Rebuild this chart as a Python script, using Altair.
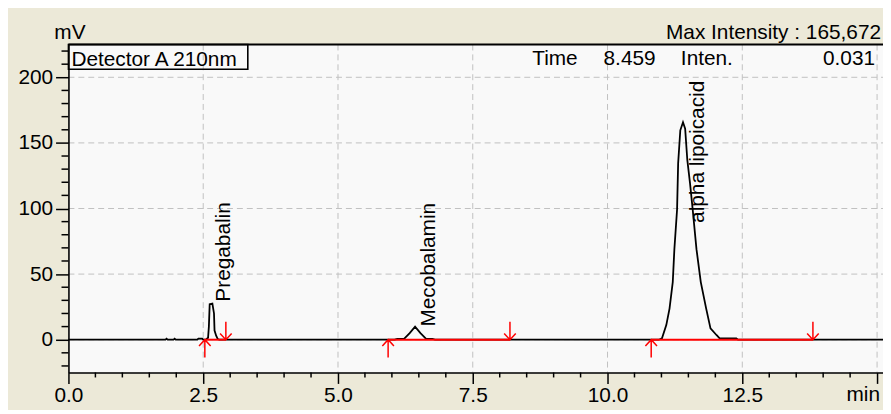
import altair as alt
import pandas as pd

# ---- chromatogram trace (time in min, intensity in mV) ----
trace_t = [0.00, 1.80, 1.82, 1.84, 1.95, 1.97, 1.99, 2.39, 2.41, 2.48, 2.50,
           2.55, 2.59, 2.605, 2.62, 2.67, 2.70, 2.71, 2.74, 2.77, 2.80,
           6.05, 6.10, 6.23, 6.33, 6.43, 6.53, 6.63, 6.75, 6.80,
           10.95, 11.01, 11.09, 11.15, 11.21, 11.24, 11.29, 11.31, 11.35, 11.40,
           11.44, 11.48, 11.53, 11.58, 11.65, 11.73, 11.83, 11.91, 12.02, 12.08,
           12.39, 12.42, 15.11]
trace_mv = [0, 0, 0.8, 0, 0, 0.8, 0, 0, 0.8, 0.8, 0,
            0, 1.5, 10, 27, 27.5, 20, 7, 3, 0.5, 0,
            0, 0.6, 0.8, 5, 9.9, 5, 0.8, 0.6, 0,
            0, 1.0, 11.1, 23.7, 43.9, 69, 99.2, 134.5, 159.6, 165.7,
            160.9, 137, 119.4, 99.2, 69, 43.9, 23.7, 8.6, 3.6, 1.0,
            1.0, 0, 0]

# ---- peaks ----
peak_names = ["Pregabalin", "Mecobalamin", "alpha lipoicacid"]
label_t = [2.89, 6.69, 11.67]
label_mv = [29, 10, 89]
base_start = [2.53, 5.93, 10.81]
base_end = [2.92, 8.19, 13.81]

# ---- axis ticks ----
x_major = [0, 2.5, 5, 7.5, 10, 12.5, 15]
x_minor = [0.5, 1, 1.5, 2, 3, 3.5, 4, 4.5, 5.5, 6, 6.5, 7, 8, 8.5, 9, 9.5,
           10.5, 11, 11.5, 12, 13, 13.5, 14, 14.5]
y_major = [0, 50, 100, 150, 200]
y_minor = [-20, -10, 10, 20, 30, 40, 60, 70, 80, 90, 110, 120, 130, 140,
           160, 170, 180, 190, 210, 220]

header_max = "Max Intensity : 165,672"
detector = "Detector A 210nm"
cursor_time = "8.459"
cursor_inten = "0.031"

W, H = 822, 331
FONT = "Liberation Sans"
FS = 21
GRID = "#C0C0C0"

xs = alt.Scale(domain=[0, 15.11], nice=False, zero=False)
ys = alt.Scale(domain=[-25, 225], nice=False, zero=False)

x_axis = alt.Axis(values=x_major, title=None,
                  labelExpr="datum.value == 15 ? '' : format(datum.value, '.1f')",
                  labelFontSize=FS, labelColor="black", labelFont=FONT,
                  labelPadding=1, labelFlush=False, labelOverlap=False,
                  tickSize=11, tickWidth=1.5, tickColor="black",
                  domainColor="black", domainWidth=1.6, grid=False, zindex=1)
y_axis = alt.Axis(values=y_major, title=None, format="d",
                  labelFontSize=FS, labelColor="black", labelFont=FONT,
                  labelPadding=3, labelOverlap=False,
                  tickSize=13, tickWidth=1.5, tickColor="black",
                  domainColor="black", domainWidth=1.6, grid=False, zindex=1)


def X(f):
    return alt.X(f, type="quantitative", scale=xs, axis=x_axis)


def Y(f):
    return alt.Y(f, type="quantitative", scale=ys, axis=y_axis)


df_trace = pd.DataFrame({"t": trace_t, "mv": trace_mv})
df_peaks = pd.DataFrame({"name": peak_names, "t": label_t, "mv": label_mv})
df_base = pd.DataFrame({"t": base_start, "t2": base_end, "mv": [0] * 3})
df_start = pd.DataFrame({"t": base_start, "mv": [0] * 3})
df_end = pd.DataFrame({"t": base_end, "mv": [0] * 3})
df_xmin = pd.DataFrame({"t": x_minor})
df_ymin = pd.DataFrame({"mv": y_minor})
df_xgrid = pd.DataFrame({"t": x_major[1:]})
df_ygrid = pd.DataFrame({"mv": y_major})

plot_bg = alt.Chart(pd.DataFrame({"a": [0]})).mark_rect(fill="#F9F9F9").encode(
    x=alt.value(0), x2=alt.value(W), y=alt.value(0), y2=alt.value(H))

xgrid = alt.Chart(df_xgrid).mark_rule(color=GRID, strokeWidth=1, strokeDash=[6, 4]).encode(
    x=X("t"), y=alt.value(0), y2=alt.value(H))
ygrid = alt.Chart(df_ygrid).mark_rule(color=GRID, strokeWidth=1, strokeDash=[6, 4]).encode(
    y=Y("mv"), x=alt.value(0), x2=alt.value(W))

trace = alt.Chart(df_trace).mark_line(color="black", strokeWidth=1.8).encode(
    x=X("t"), y=Y("mv"), order="t:Q")

baseline = alt.Chart(df_base).mark_rule(color="#FF0000", strokeWidth=2).encode(
    x=X("t"), x2="t2:Q", y=Y("mv"))

up_path = "M0,0L0,2M-0.65,0.7L0,0L0.65,0.7"
down_path = "M0,0L0,-2M-0.65,-0.7L0,0L0.65,-0.7"
arrows_up = alt.Chart(df_start).mark_point(
    shape=up_path, size=324, filled=False, color="#FF0000", strokeWidth=1.5, opacity=1
).encode(x=X("t"), y=Y("mv"))
arrows_down = alt.Chart(df_end).mark_point(
    shape=down_path, size=324, filled=False, color="#FF0000", strokeWidth=1.5, opacity=1
).encode(x=X("t"), y=Y("mv"))

labels = alt.Chart(df_peaks).mark_text(
    angle=270, align="left", baseline="middle", fontSize=FS, font=FONT, color="black"
).encode(x=X("t"), y=Y("mv"), text="name:N")

xminor = alt.Chart(df_xmin).mark_rule(color="black", strokeWidth=1.5).encode(
    x=X("t"), y=alt.value(H), y2=alt.value(H + 5))
yminor = alt.Chart(df_ymin).mark_rule(color="black", strokeWidth=1.5).encode(
    y=Y("mv"), x=alt.value(-7), x2=alt.value(0))

min_label = alt.Chart(pd.DataFrame({"t": [15]})).mark_text(
    text="min", align="center", baseline="top", dx=-14, fontSize=FS, font=FONT, color="black"
).encode(x=X("t"), y=alt.value(H + 12))

top_border = alt.Chart(pd.DataFrame({"a": [0]})).mark_rule(color="black", strokeWidth=1.8).encode(
    x=alt.value(0), x2=alt.value(W), y=alt.value(0))

det_box = alt.Chart(pd.DataFrame({"a": [0]})).mark_rect(
    fill=None, stroke="black", strokeWidth=1.6
).encode(x=alt.value(0), x2=alt.value(181), y=alt.value(0), y2=alt.value(25))


def txt(s, x, y, align="left"):
    return alt.Chart(pd.DataFrame({"a": [0]})).mark_text(
        text=s, align=align, baseline="alphabetic", fontSize=FS, font=FONT, color="black"
    ).encode(x=alt.value(x), y=alt.value(y))


texts = [
    txt(detector, 3, 22),
    txt("Time", 468, 20.5),
    txt(cursor_time, 540, 20.5),
    txt("Inten.", 618, 20.5),
    txt(cursor_inten, 814, 20.5, "right"),
    txt("mV", 1.5, -6, "center"),
    txt(header_max, W - 2, -6, "right"),
]

chart = alt.layer(
    plot_bg, xgrid, ygrid, trace, baseline, arrows_up, arrows_down, labels,
    xminor, yminor, min_label, top_border, det_box, *texts
).properties(
    width=W, height=H,
    padding={"left": 61, "top": 35, "right": 0, "bottom": 36},
    autosize=alt.AutoSizeParams(type="none"),
    background="#ECE9D8",
).configure_view(stroke=None).configure(font=FONT)

chart.save("out.html", embed_options={"renderer": "svg", "actions": False})
